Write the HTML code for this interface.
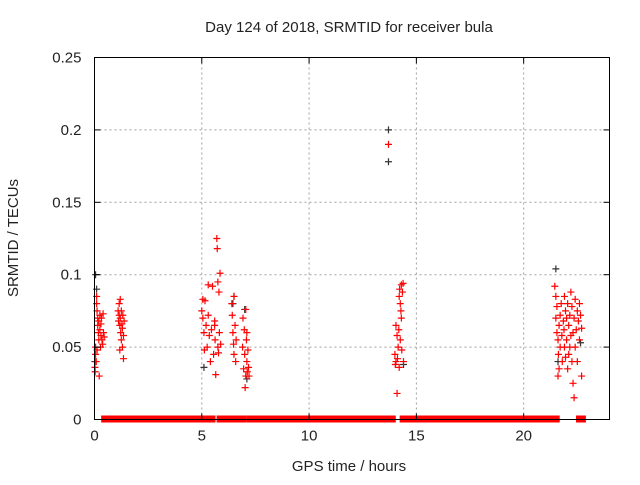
<!DOCTYPE html>
<html><head><meta charset="utf-8"><style>
body{margin:0;background:#fff;}
svg text{font-family:"Liberation Sans",sans-serif;font-size:15px;fill:#222;}
</style></head><body>
<svg id="chart" width="640" height="480" xmlns="http://www.w3.org/2000/svg">
<text x="349" y="32" text-anchor="middle">Day 124 of 2018, SRMTID for receiver bula</text>
<text x="349" y="471" text-anchor="middle">GPS time / hours</text>
<text transform="translate(18,238) rotate(-90)" text-anchor="middle">SRMTID / TECUs</text>
<g id="grid"></g>
<g id="marks"></g>
<rect x="94.5" y="57.5" width="515" height="362" fill="none" stroke="#000"/>
<g id="ticks"></g>
</svg>
<script>
const xTicks=[0,5,10,15,20];
const yTicks=[0,0.05,0.1,0.15,0.2,0.25];
const yTickLabels=["0","0.05","0.1","0.15","0.2","0.25"];
const zeroSegments=[[0.45,1.17],[1.35,5.03],[5.3,5.5],[5.83,6.43],[6.48,6.95],[7.23,13.9],[14.36,21.54],[22.58,22.62],[22.72,22.76]];
const redPoints=[[0.02,0.036],[0.05,0.045],[0.05,0.05],[0.08,0.04],[0.1,0.085],[0.1,0.08],[0.12,0.075],[0.15,0.065],[0.15,0.07],[0.18,0.06],[0.2,0.068],[0.2,0.055],[0.22,0.03],[0.25,0.072],[0.25,0.062],[0.28,0.05],[0.3,0.066],[0.3,0.058],[0.32,0.07],[0.35,0.055],[0.38,0.052],[0.4,0.073],[0.42,0.06],[0.45,0.057],[0.12,0.048],[0.03,0.033],
[1.1,0.075],[1.12,0.068],[1.15,0.08],[1.15,0.072],[1.18,0.065],[1.2,0.083],[1.2,0.07],[1.22,0.06],[1.25,0.055],[1.25,0.075],[1.28,0.066],[1.3,0.05],[1.3,0.063],[1.32,0.072],[1.35,0.042],[1.35,0.058],[1.38,0.068],[1.18,0.048],
[5.0,0.075],[5.05,0.07],[5.05,0.083],[5.1,0.06],[5.12,0.048],[5.15,0.082],[5.2,0.065],[5.25,0.05],[5.3,0.093],[5.3,0.072],[5.35,0.058],[5.4,0.04],[5.45,0.062],
[5.5,0.092],[5.55,0.045],[5.6,0.065],[5.62,0.055],[5.65,0.031],[5.7,0.125],[5.72,0.118],[5.75,0.095],[5.75,0.05],[5.8,0.088],[5.82,0.06],[5.85,0.101],[5.88,0.052],[5.6,0.068],[5.78,0.046],
[6.4,0.08],[6.42,0.072],[6.45,0.06],[6.48,0.052],[6.5,0.085],[6.5,0.045],[6.55,0.065],[6.58,0.04],[6.6,0.055],
[6.9,0.05],[6.92,0.07],[6.95,0.035],[6.98,0.062],[7.0,0.045],[7.02,0.022],[7.05,0.076],[7.05,0.03],[7.08,0.055],[7.1,0.04],[7.12,0.033],[7.15,0.048],[7.18,0.036],[7.2,0.03],[7.1,0.06],
[13.7,0.19],
[14.0,0.045],[14.02,0.038],[14.05,0.065],[14.05,0.04],[14.1,0.058],[14.1,0.018],[14.12,0.042],[14.15,0.05],[14.18,0.062],[14.2,0.085],[14.22,0.09],[14.25,0.08],[14.25,0.055],[14.3,0.093],[14.3,0.07],[14.32,0.048],[14.35,0.088],[14.38,0.094],[14.4,0.04],[14.2,0.036],[14.28,0.075],
[21.45,0.092],[21.5,0.085],[21.5,0.07],[21.55,0.06],[21.55,0.078],[21.6,0.03],[21.62,0.045],[21.65,0.065],[21.7,0.05],[21.7,0.072],[21.75,0.08],[21.78,0.058],[21.8,0.04],[21.85,0.068],[21.88,0.062],[21.9,0.085],[21.9,0.05],[21.95,0.075],[22.0,0.055],[22.0,0.07],[22.05,0.035],[22.05,0.08],[22.1,0.065],[22.1,0.045],[22.15,0.072],[22.2,0.058],[22.2,0.088],[22.25,0.04],[22.25,0.078],[22.3,0.06],[22.3,0.025],[22.35,0.015],[22.35,0.07],[22.4,0.05],[22.4,0.083],[22.45,0.062],[22.5,0.075],[22.5,0.04],[22.55,0.068],[22.6,0.08],[22.6,0.055],[22.65,0.072],[22.7,0.03],[22.7,0.063],[21.65,0.035],[21.6,0.055],[22.15,0.05],[21.95,0.043]];
const blackPoints=[[0.05,0.1],[0.1,0.09],[0.02,0.04],[5.1,0.036],[6.5,0.085],[6.45,0.08],[7.0,0.076],[7.1,0.028],[13.7,0.2],[13.7,0.178],[21.5,0.104],[22.65,0.053],[21.6,0.04],[14.4,0.038]];

const NS="http://www.w3.org/2000/svg";
const X0=94.5,X1=609.5,Y0=419.5,Y1=57.5,XMAX=24,YMAX=0.25;
function sx(v){return X0+(X1-X0)*v/XMAX;}
function sy(v){return Y0-(Y0-Y1)*v/YMAX;}
function mk(tag,attrs,parent){const e=document.createElementNS(NS,tag);for(const k in attrs)e.setAttribute(k,attrs[k]);parent.appendChild(e);return e;}
const grid=document.getElementById('grid'),ticks=document.getElementById('ticks'),marks=document.getElementById('marks');
xTicks.forEach(function(t){
  const x=sx(t);
  if(t>0){const g=mk('line',{x1:x,x2:x,y1:Y0,y2:Y1,stroke:'#a0a0a0','stroke-dasharray':'2,3'},grid);
  
  }
  mk('line',{x1:x,x2:x,y1:Y0,y2:Y0-6,stroke:'#000'},ticks);
  mk('line',{x1:x,x2:x,y1:Y1,y2:Y1+6,stroke:'#000'},ticks);
  const tx=mk('text',{x:x,y:Y0+21,'text-anchor':'middle'},ticks);
  tx.textContent=String(t);
  
  
});
yTicks.forEach(function(t,i){
  const y=sy(t);
  if(t>0&&t<YMAX){const g=mk('line',{x1:X0,x2:X1,y1:y,y2:y,stroke:'#a0a0a0','stroke-dasharray':'2,3'},grid);
  
  }
  mk('line',{x1:X0,x2:X0+6,y1:y,y2:y,stroke:'#000'},ticks);
  mk('line',{x1:X1,x2:X1-6,y1:y,y2:y,stroke:'#000'},ticks);
  const tx=mk('text',{x:X0-13,y:y+5,'text-anchor':'end'},ticks);
  tx.textContent=yTickLabels[i];
  
  
});
zeroSegments.forEach(function(s){
  const r=mk('rect',{x:sx(s[0])-3,y:sy(0)-4,width:sx(s[1])-sx(s[0])+6,height:7,fill:'#ff0000'},marks);
  
  
});
function plus(p,color,name){
  const x=sx(p[0]),y=sy(p[1]);
  const e=mk('path',{d:'M'+(x-3.5)+' '+y+'H'+(x+3.5)+'M'+x+' '+(y-3.5)+'V'+(y+3.5),stroke:color,'stroke-width':1.2,fill:'none'},marks);
  
  
}
blackPoints.forEach(function(p){plus(p,'#333','black-point');});
redPoints.forEach(function(p){plus(p,'#ff0000','red-point');});
</script>
</body></html>
